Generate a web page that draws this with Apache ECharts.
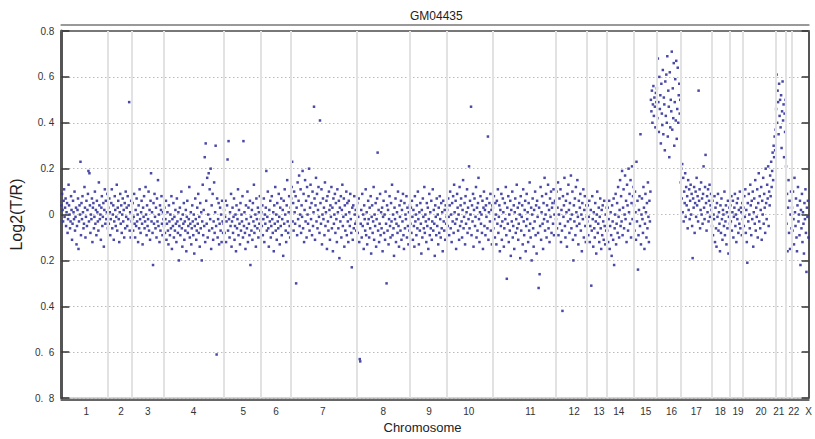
<!DOCTYPE html>
<html>
<head>
<meta charset="utf-8">
<script src="https://cdn.jsdelivr.net/npm/echarts@6/dist/echarts.min.js"></script>
<style>html,body{margin:0;padding:0;background:#fff}#c{width:815px;height:439px}</style>
</head>
<body>
<div id="c"></div>
<script>
const chartTitle = 'GM04435';
const chromosomes = ['1','2','3','4','5','6','7','8','9','10','11','12','13','14','15','16','17','18','19','20','21','22','X'];
// chromosome boundaries along the genome axis (relative units)
const chromBounds = [0,47,71,103,163,201,231,297,351,388,434,497,529,549,576,599,623,654,673,686,719,729,735,752];
// where each chromosome label sits on the genome axis
const labelPositions = [25,60,87,133,183,216,263,324,370,410,472,516,541,561,588,614,639,663,681,704,722,737,752];
const yTickLabels = ['0.  8','0.  6','0.4','0.2','0','0.2','0. 4','0. 6','0.8'];

const chr1 = [.04,.09,.02,-.03,.06,.11,-.01,.03,.07,-.05,.01,.05,-.08,-.02,.13,.04,.0,-.06,-.03,.08,.02,-.11,-.04,.06,.01,-.02,.1,-.07,-.01,.03,-.13,-.05,.02,.07,-.15,-.03,.04,.0,.23,-.09,.05,-.02,.08,.01,-.06,-.04,.12,.03,-.1,-.01,.06,-.05,.02,.09,.19,-.03,.18,.04,-.08,.0,-.02,.07,-.12,.03,.05,-.06,-.01,.1,-.04,.02,-.09,.06,.01,-.03,-.07,.14,.04,-.02,.0,-.11,.03,.08,-.05,-.01,.05,-.14,.02,.11,-.04,.06,-.02,.01,.09,-.06];
const chr2 = [.03,-.04,.07,.01,-.09,-.02,.05,.11,-.06,.0,.04,-.11,-.03,.08,.02,-.05,-.01,.13,-.07,.03,.06,-.02,-.12,.01,.09,-.04,.04,-.08,.0,.07,-.03,.02,-.1,.05,-.06,.1,-.01,.03,-.05,.08,-.02,.04,.49,-.07,.01,-.1,.06,-.03];
const chr3 = [-.02,.05,-.07,-.01,.09,-.04,-.1,.02,-.05,.07,-.03,.0,-.12,.04,-.06,.11,-.02,-.08,.01,.06,-.04,-.13,.03,-.01,.08,-.06,-.03,.12,.0,-.09,.04,-.05,-.02,.1,-.07,.02,-.11,.06,.18,-.03,.01,-.08,-.22,.05,-.04,.09,-.01,-.06,.03,-.1,.07,-.03,.15,-.05,.0,-.12,.04,-.07,.02,.08,-.04,-.09,.01,-.02];
const chr4 = [-.05,.03,-.08,-.02,.06,-.11,-.04,.01,-.07,-.13,.04,-.03,-.09,.0,-.06,.08,-.15,-.02,-.05,.05,-.1,-.01,-.07,.02,-.04,-.12,.07,-.03,-.08,.01,-.2,-.05,.03,-.09,-.02,.1,-.06,-.14,.0,-.04,.05,-.11,-.03,-.07,.02,-.16,-.01,.06,-.08,-.05,-.02,.12,-.1,-.04,.01,-.13,-.06,.04,-.03,-.09,.0,-.17,-.05,.07,-.02,-.11,-.07,.03,-.04,.09,-.08,-.01,-.14,.05,-.06,.01,-.2,-.03,.13,-.09,.02,-.05,.25,-.12,.31,.06,-.04,.16,-.1,.0,.18,-.07,.11,-.02,.2,-.15,.04,-.06,.09,-.11,-.03,.14,-.08,.01,.3,-.05,-.61,.07,-.1,-.02,.05,-.13,-.04,.03,-.07,.0,-.12,.06,-.03,-.08];
const chr5 = [-.04,.02,-.08,-.01,.06,-.12,-.03,.04,.24,-.07,.32,-.02,-.1,.01,-.05,.09,-.14,-.03,.03,-.08,-.01,.07,-.11,-.05,.0,-.16,.04,-.06,-.02,.11,-.09,.02,-.04,-.13,.05,-.07,.0,-.03,.08,-.1,.32,-.05,.01,-.08,-.15,.04,-.02,-.06,.1,-.12,.03,-.04,-.09,.06,-.22,-.01,-.07,.02,-.11,.05,-.03,.13,-.08,-.05,.0,-.14,.07,-.02,-.06,.03,-.1,.01,-.04,.08,-.07,-.02];
const chr6 = [.01,-.05,.04,-.09,-.02,.07,-.12,.0,-.04,.03,.19,-.07,-.01,.1,-.06,-.14,.02,-.03,.06,-.1,-.05,.08,-.02,-.08,.01,-.16,.04,-.04,.12,-.07,.0,-.11,.05,-.03,-.06,.09,-.01,-.13,.03,-.05,.07,-.09,-.02,.02,-.18,.06,-.04,.11,.0,-.07,-.12,.04,.15,-.03,-.08,.01,.08,-.05,-.1,.03];
const chr7 = [.07,.12,.23,-.03,.05,-.07,.1,.01,-.04,.08,-.3,.03,-.09,.14,-.02,.06,.17,-.05,.0,.11,-.08,.04,-.01,.19,-.06,.09,-.12,.02,.15,-.03,.06,-.1,.12,.0,-.04,.08,.2,-.07,.03,.13,-.02,.05,-.09,.1,-.05,.01,.47,.07,-.11,.04,.16,-.03,.09,-.06,.02,.12,-.01,-.08,.41,.05,-.04,.11,-.13,.0,.07,-.02,.03,-.09,.14,-.05,.01,.06,-.15,.08,-.03,-.07,.1,.02,-.11,.04,-.01,.12,-.06,.03,-.16,.07,-.04,.0,.09,-.08,.05,-.02,-.12,.11,.01,-.06,.06,-.19,.03,-.03,.08,-.1,.02,.13,-.05,-.01,.07,-.14,.04,-.07,.0,.1,-.09,.05,-.03,-.12,.06,.01,-.05,.09,-.02,-.08,-.23,.03,-.11,.04,-.06,.08,.0,-.04,.02,-.07];
const chr8 = [-.03,.05,-.08,-.01,.07,-.12,-.63,-.64,-.04,.02,-.1,.09,-.05,.0,-.15,.04,-.02,-.07,.11,-.09,.01,-.13,-.04,.06,-.02,-.1,.03,-.06,.08,-.17,-.01,.04,-.08,-.03,.12,-.11,.0,-.05,.05,-.14,-.02,.07,.27,-.07,.02,-.12,-.04,.09,-.09,.01,-.06,.03,-.16,-.01,.06,-.08,.0,-.11,.1,-.04,-.3,.04,-.07,.02,-.13,-.02,.08,-.05,-.1,.05,-.03,.13,-.09,.0,-.06,-.18,.03,-.02,.07,-.12,-.04,.01,-.08,.1,-.05,-.14,.04,-.01,-.07,.06,-.11,.02,-.03,.09,-.09,-.15,.05,-.06,.0,-.02,.08,-.1,.03,-.05,-.13,.01,-.07,.04];
const chr9 = [-.04,.03,-.08,.06,-.01,-.11,.02,-.05,-.14,.08,-.03,.0,-.09,.04,-.06,.1,-.02,-.13,.01,-.07,.05,-.04,-.17,.02,-.1,.07,-.01,-.06,.12,-.08,.0,-.03,-.12,.05,-.05,.03,-.15,-.02,.09,-.09,.01,-.06,.06,-.11,-.03,.11,-.07,.02,-.04,-.18,.04,-.01,-.09,.07,-.05,.0,-.13,.03,-.08,.08,-.02,-.1,.05,-.06,.01,-.16,.06,-.03,-.07,.02,-.11,.04,-.04,-.01];
const chr10 = [.02,-.05,.07,-.01,-.09,.04,.1,-.06,.0,-.12,.05,-.03,.08,-.08,.13,.01,-.04,.06,-.15,-.02,.09,.03,-.07,.0,-.11,.12,-.05,.04,.07,-.03,-.1,.02,.15,-.06,-.01,.05,-.13,.08,-.04,.01,.11,-.08,.03,-.02,.21,-.06,.06,.0,.47,-.09,.04,-.03,.09,-.14,.02,.07,-.05,-.01,.12,-.1,.03,-.07,.05,.16,-.02,-.12,.01,.08,-.04,.0,-.08,.06,-.15,.03,.1,-.05,.02,-.09,.04,-.01,.07,-.06,.34,-.11,.01,.05,-.03,.09,-.07,.02,-.13,.04];
const chr11 = [.03,-.06,.08,-.02,-.1,.05,.0,-.13,.06,-.04,.11,-.08,-.01,.04,-.16,.02,-.05,.09,-.11,-.03,.07,.01,-.14,-.06,.05,-.02,.12,-.09,-.28,.03,-.04,.08,-.12,.0,-.07,.06,-.18,.02,-.03,.1,-.1,-.05,.04,-.15,.01,.07,-.08,-.02,.13,-.06,.03,-.11,-.04,.05,.0,-.19,.08,-.07,-.01,.04,-.13,.11,-.03,-.09,.02,.06,-.16,-.05,.09,-.02,.01,-.12,.05,-.07,.14,-.04,-.1,.03,-.2,.0,.07,-.06,-.14,.02,-.03,.1,-.09,.04,-.17,.06,-.01,-.08,-.32,.03,-.26,-.05,.12,-.11,.01,.08,-.04,-.15,.05,-.02,.16,-.07,.0,.09,-.1,.04,-.03,.13,-.06,.02,-.12,.07,-.01,.1,-.08,.03,.05,-.04,.11,-.09,.0,.06];
const chr12 = [.05,-.02,.1,-.06,.03,.14,-.09,.0,.07,-.04,.11,-.12,.02,-.07,-.42,.08,-.01,.04,.16,-.05,-.1,.06,.01,-.14,.09,-.03,.13,.02,-.08,.05,-.02,.17,-.06,.0,.1,-.11,-.2,.04,-.03,.07,-.09,.12,.01,-.05,.15,-.01,-.13,.06,-.04,.03,.09,-.07,.0,-.16,.05,-.02,.11,-.1,.02,.08,-.05,-.12,.04,-.01];
const chr13 = [-.03,.04,-.09,-.01,.06,-.12,-.05,.02,-.31,-.07,.08,-.02,-.14,.01,-.06,-.1,.05,-.03,-.17,.0,.1,-.08,-.04,.03,-.12,-.01,.07,-.06,-.15,.02,-.09,.04,-.03,-.11,.06,-.05,-.13,.0,-.07,.03];
const chr14 = [-.07,.03,-.12,-.02,.06,-.15,-.05,.01,-.09,-.18,.04,-.03,-.11,.07,-.22,-.06,.0,.09,-.13,-.04,.05,-.08,.12,-.01,-.1,.02,.15,-.05,.08,-.03,.19,-.09,.03,.11,-.06,.0,.17,-.02,.06,-.12,.13,.04,-.07,.2,.01,.09,-.04,.15,-.1,.05,.21,-.02,.08,.12];
const chr15 = [.04,-.07,.1,.01,-.11,.23,-.03,.06,-.24,-.09,.02,.08,-.05,.35,-.13,.0,.07,-.02,-.08,.12,.03,-.15,-.04,.09,.01,-.1,.05,-.06,.14,-.01,-.12,.06,-.03,.1,.5,.45,.54,.4,.48,.56,.43,.51,.47,.38,.53,.49];
const chr16 = [.55,.42,.68,.49,.36,.6,.46,.52,.31,.57,.44,.39,.63,.35,.51,.48,.28,.58,.43,.61,.4,.69,.34,.54,.47,.25,.62,.38,.5,.45,.71,.37,.55,.42,.66,.3,.49,.59,.41,.67,.33,.46,.64,.4,.52,.57,.44,.5];
const chr17 = [.14,.2,.07,.22,.01,.16,-.03,.1,.05,.18,-.01,.12,.04,.08,-.06,.15,.02,.11,-.02,.06,.13,.0,.09,-.05,-.19,.07,.03,.12,-.08,.05,.1,-.01,.16,.04,.08,-.03,.54,.06,.11,-.06,.02,.14,.0,.07,-.04,.09,.21,.03,-.02,.12,.26,.05,-.07,.08,.01,.11,-.03,.06,.13,-.01,.04,.09];
const chr18 = [.02,-.05,.06,-.09,.0,-.02,.08,-.12,.03,-.06,-.14,.05,-.01,.09,-.07,.01,-.04,-.16,.04,-.08,.07,-.02,-.11,.02,.0,-.05,.1,-.09,-.03,.04,-.13,.01,-.06,.06,-.17,-.01,.03,-.04];
const chr19 = [.04,-.03,.08,-.07,.01,.06,-.1,-.01,.03,.09,-.05,.0,-.12,.05,-.02,.07,-.08,.02,-.04,.1,-.06,.03,.01,-.09,.05,-.02];
const chr20 = [.03,-.05,.08,-.01,.11,-.08,.02,-.12,-.21,.05,-.03,.09,.0,-.06,.13,.04,-.09,.06,-.02,.1,-.14,.01,.07,-.04,.15,-.07,.03,-.01,.11,-.1,.05,.18,-.03,.08,-.06,.02,.12,-.11,.06,.0,.16,-.04,.09,.03,-.08,.2,.05,-.02,.13,.07,.21,-.05,.1,.04,.17,.08,.23,.12,.19,.27,.15,.3,.25,.34,.28,.37];
const chr21 = [.46,.61,.4,.54,.49,.35,.57,.43,.5,.38,.52,.29,.45,.58,.41,.48,.25,.44,.36,.5];
const chr22 = [.21,-.04,.09,-.16,.03,.15,-.08,.06,-.15,.0,.1,-.06];
const chrX = [.03,-.07,.1,-.02,-.13,.16,.01,-.05,.07,-.1,-.16,.04,.12,-.03,.0,-.09,.06,-.22,.02,-.06,.09,-.12,.01,-.04,-.17,.05,-.02,.11,-.08,-.25,.03,-.01,.06,-.1];
const log2Ratios = [chr1,chr2,chr3,chr4,chr5,chr6,chr7,chr8,chr9,chr10,chr11,chr12,chr13,chr14,chr15,chr16,chr17,chr18,chr19,chr20,chr21,chr22,chrX];

const points = [];
log2Ratios.forEach((vals, c) => {
  const s = chromBounds[c], e = chromBounds[c + 1], n = vals.length;
  vals.forEach((v, i) => points.push([s + (i + 0.5) * (e - s) / n, v]));
});
const boundaryLines = chromBounds.slice(1, -1).map(b => ({ xAxis: b }));

const font = 'Liberation Sans, Arial, Helvetica, sans-serif';
const chart = echarts.init(document.getElementById('c'), null, { renderer: 'svg' });
chart.setOption({
  animation: false,
  backgroundColor: '#fff',
  title: { text: chartTitle, left: 405, top: 5, textStyle: { fontSize: 12, fontWeight: 'normal', color: '#222', fontFamily: font } },
  grid: { left: 60, right: 4, top: 31, bottom: 34, show: true, borderColor: '#999', borderWidth: 1 },
  xAxis: [
    { type: 'value', min: 0, max: 752, position: 'bottom', offset: 2,
      name: 'Chromosome', nameLocation: 'middle', nameGap: 14,
      nameTextStyle: { fontSize: 13, color: '#222', fontFamily: font, padding: [0, 25, 0, 0] },
      axisLine: { show: true, onZero: false, lineStyle: { color: '#666', width: 2 } },
      axisTick: { show: false }, splitLine: { show: false },
      axisLabel: { customValues: labelPositions, margin: 6, fontSize: 10, color: '#333', fontFamily: font,
        formatter: v => chromosomes[labelPositions.indexOf(v)] || '' } },
    { type: 'value', min: 0, max: 752, position: 'top', offset: 6,
      axisLine: { show: true, onZero: false, lineStyle: { color: '#999', width: 2 } },
      axisTick: { show: false }, axisLabel: { show: false }, splitLine: { show: false } },
    { type: 'value', min: 0, max: 752, position: 'top', offset: 0,
      axisLine: { show: true, onZero: false, lineStyle: { color: '#777', width: 2 } },
      axisTick: { show: false }, axisLabel: { show: false }, splitLine: { show: false } }
  ],
  yAxis: [
    { type: 'value', min: -0.8, max: 0.8, interval: 0.2, position: 'left',
      name: 'Log2(T/R)', nameLocation: 'middle', nameGap: 30,
      nameTextStyle: { fontSize: 16, color: '#222', fontFamily: font },
      axisLine: { show: true, onZero: false, lineStyle: { color: '#555', width: 3 } },
      axisTick: { show: true, inside: true, length: 8, lineStyle: { color: '#333', width: 1.5 } },
      axisLabel: { margin: 7, fontSize: 10, color: '#333', fontFamily: font,
        formatter: v => yTickLabels[Math.round((v + 0.8) / 0.2)] },
      splitLine: { show: true, lineStyle: { color: '#999', width: 1, type: [1, 3] } } },
    { type: 'value', min: -0.8, max: 0.8, interval: 0.2, position: 'right',
      axisLine: { show: true, onZero: false, lineStyle: { color: '#555', width: 2 } },
      axisTick: { show: true, inside: true, length: 7, lineStyle: { color: '#333', width: 1.5 } },
      axisLabel: { show: false }, splitLine: { show: false } }
  ],
  series: [{
    type: 'scatter', xAxisIndex: 0, yAxisIndex: 0, data: points,
    symbol: 'rect', symbolSize: 2.5, silent: true,
    itemStyle: { color: '#35359c', opacity: 0.9 },
    markLine: { silent: true, symbol: 'none', label: { show: false },
      lineStyle: { color: '#e2e2e2', width: 2, type: 'solid' }, data: boundaryLines },
    z: 3
  }]
});
</script>
</body>
</html>
